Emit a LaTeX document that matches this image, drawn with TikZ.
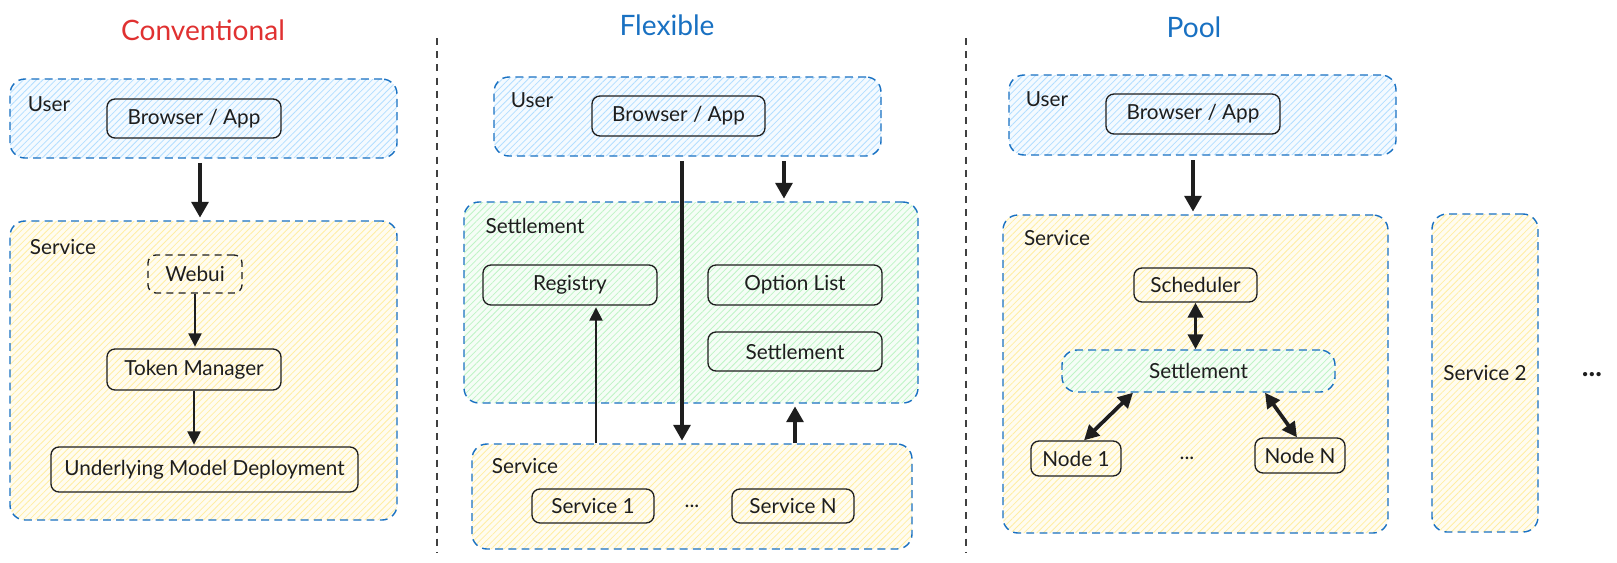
\documentclass[tikz,border=0pt]{standalone}
\usepackage{fontspec}
\setmainfont{Lato}
\usetikzlibrary{arrows.meta,patterns.meta}
\definecolor{exblue}{HTML}{1971C2}
\definecolor{exred}{HTML}{E03131}
\definecolor{hatchblue}{HTML}{A5D8FF}
\definecolor{hatchyellow}{HTML}{FFEC99}
\definecolor{hatchgreen}{HTML}{B2F2BB}
\definecolor{ink}{HTML}{1E1E1E}
\begin{document}
\begin{tikzpicture}[x=0.02cm,y=-0.02cm,font=\fontsize{11.8}{14}\selectfont,text=ink,
    sz/.style 2 args={minimum width=#1*0.02cm,minimum height=#2*0.02cm},
    title/.style={font=\fontsize{16}{19}\selectfont},
    grp/.style={draw=exblue,line width=0.8pt,dash pattern=on 4.5pt off 3pt,rounded corners=0.3cm,inner sep=0pt},
    usergrp/.style={grp,preaction={fill=hatchblue!12},pattern={Lines[angle=45,distance=2.6pt,line width=0.45pt]},pattern color=hatchblue!85},
    svcgrp/.style={grp,preaction={fill=hatchyellow!15},pattern={Lines[angle=45,distance=2.6pt,line width=0.45pt]},pattern color=hatchyellow!90},
    setgrp/.style={grp,preaction={fill=hatchgreen!13},pattern={Lines[angle=45,distance=2.6pt,line width=0.45pt]},pattern color=hatchgreen!85},
    blk/.style={draw=ink,line width=0.75pt,rounded corners=0.16cm,inner sep=0pt},
    sep/.style={draw=ink!85,line width=0.6pt,dash pattern=on 4pt off 3.5pt},
    big/.style={draw=ink,line width=2.6pt,-{Triangle[length=9pt,width=9.5pt]},shorten <=2.5pt,shorten >=1.5pt},
    thin/.style={draw=ink,line width=0.8pt,-{Triangle[length=7.5pt,width=7.5pt]},shorten >=1pt},
    dbl/.style={draw=ink,line width=2.1pt,{Triangle[length=8.5pt,width=8.5pt]}-{Triangle[length=8.5pt,width=8.5pt]}}]
    \path[fill=white] (0,0) rectangle (1617,562);
    \useasboundingbox (0,0) rectangle (1617,562);
    \draw (203,30) node[title,text=exred] (convT) {Conventional};
    \draw (667,25) node[title,text=exblue] (flexT) {Flexible};
    \draw (1194,27) node[title,text=exblue] (poolT) {Pool};
    \draw[sep] (437,38) -- (437,552);
    \draw[sep] (966,38) -- (966,552);
    \draw (203.5,118.5) node[usergrp,sz={387}{79}] (userA) {};
    \draw (49,104) node (userAl) {User};
    \draw (194,118.5) node[blk,sz={174}{39}] (browA) {Browser / App};
    \draw (203.5,370.5) node[svcgrp,sz={387}{299}] (svcA) {};
    \draw (63,247) node (svcAl) {Service};
    \draw (195,274) node[blk,dash pattern=on 4pt off 3pt,sz={94}{38}] (webui) {Webui};
    \draw (194,369.5) node[blk,sz={174}{41}] (token) {Token Manager};
    \draw (204.5,469.5) node[blk,sz={307}{45}] (umd) {Underlying Model Deployment};
    \draw[big] ([xshift=-0.07cm]userA.south) -- ([xshift=-0.07cm]userA.south |- svcA.north);
    \draw[thin] (webui.south) -- (webui.south |- token.north);
    \draw[thin] (token.south) -- (token.south |- umd.north);
    \draw (687.5,116.5) node[usergrp,sz={387}{79}] (userB) {};
    \draw (532,100) node (userBl) {User};
    \draw (678.5,116) node[blk,sz={173}{40}] (browB) {Browser / App};
    \draw (691,302.5) node[setgrp,sz={454}{201}] (setB) {};
    \draw (535,226) node (setBl) {Settlement};
    \draw (570,285) node[blk,sz={174}{40}] (registry) {Registry};
    \draw (795,285) node[blk,sz={174}{40}] (optlist) {Option List};
    \draw (795,351.5) node[blk,sz={174}{39}] (setIn) {Settlement};
    \draw (692,496.5) node[svcgrp,sz={440}{105}] (svcB) {};
    \draw (525,466) node (svcBl) {Service};
    \draw (593,506) node[blk,sz={122}{34}] (svc1) {Service 1};
    \draw (692,506) node (dotsB) {...};
    \draw (793,506) node[blk,sz={122}{34}] (svcN) {Service N};
    \draw[big] ([xshift=-0.11cm]userB.south) -- ([xshift=-0.11cm]userB.south |- svcB.north);
    \draw[big] ([xshift=1.93cm]userB.south) -- ([xshift=1.93cm]userB.south |- setB.north);
    \draw[thin] ([xshift=0.52cm]registry.south |- svcB.north) -- ([xshift=0.52cm]registry.south);
    \draw[big,shorten <=0pt] (setIn.south |- svcB.north) -- (setIn.south |- setB.south);
    \draw (1202.5,115) node[usergrp,sz={387}{80}] (userC) {};
    \draw (1047,99) node (userCl) {User};
    \draw (1193,114) node[blk,sz={174}{40}] (browC) {Browser / App};
    \draw (1195.5,374) node[svcgrp,sz={385}{318}] (svcC) {};
    \draw (1057,238) node (svcCl) {Service};
    \draw (1195.5,285) node[blk,sz={123}{34}] (sched) {Scheduler};
    \draw (1198.5,371) node[setgrp,sz={273}{42}] (setC) {Settlement};
    \draw (1076,458.5) node[blk,sz={90}{35}] (node1) {Node 1};
    \draw (1187,458) node (dotsC) {...};
    \draw (1300,455.5) node[blk,sz={90}{35}] (nodeN) {Node N};
    \draw (1485,373) node[svcgrp,sz={106}{318}] (svc2) {Service 2};
    \draw (1592,375) node[font=\fontsize{16}{18}\selectfont\bfseries] (dotsR) {...};
    \draw[big] (browC.south |- userC.south) -- (browC.south |- svcC.north);
    \draw[dbl] (sched.south) -- (sched.south |- setC.north);
    \draw[dbl] ([xshift=-1.31cm]setC.south) -- ([xshift=0.16cm]node1.north);
    \draw[dbl] ([xshift=1.33cm]setC.south) -- ([xshift=-0.06cm]nodeN.north);
\end{tikzpicture}
\end{document}
